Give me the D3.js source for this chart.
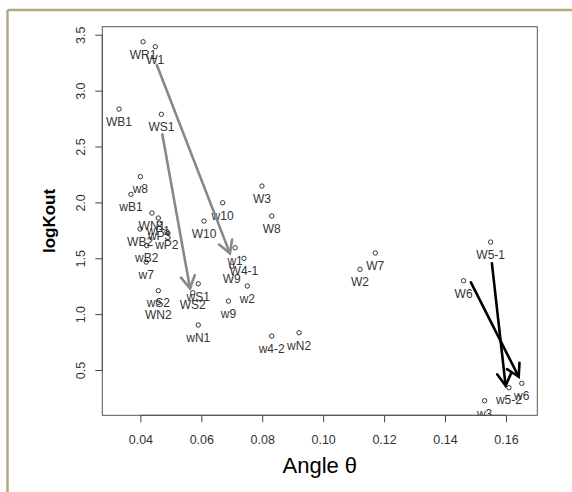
<!DOCTYPE html>
<html>
<head>
<meta charset="utf-8">
<script src="https://cdn.jsdelivr.net/npm/d3@7/dist/d3.min.js"></script>
<style>
  html, body { margin: 0; padding: 0; background: #fff; }
  svg { display: block; }
  text { font-family: "Liberation Sans", Arial, sans-serif; }
</style>
</head>
<body>
<svg id="chart" width="572" height="492"></svg>
<script>
// ---- data ----
const labels = ["WR1","W1","WB1","WS1","w8","wB1","WN1","wP1","wP3","WB2","wP2","wB2","w7",
  "wS2","WN2","wS1","WS2","wN1","W10","w10","W3","W8","w1","W4-1","W9","w2","w9",
  "w4-2","wN2","W2","W7","W5-1","W6","w5-2","w6","w3"];
const angle = [0.0409,0.0449,0.0330,0.0469,0.0400,0.0369,0.0438,0.0459,0.0463,0.0399,0.0487,0.0421,0.0419,
  0.0459,0.0459,0.0590,0.0572,0.0590,0.0609,0.0670,0.0799,0.0831,0.0711,0.0740,0.0700,0.0751,0.0689,
  0.0831,0.0921,0.1121,0.1171,0.1550,0.1461,0.1610,0.1652,0.1530];
const logKout = [3.437,3.393,2.835,2.788,2.230,2.072,1.905,1.860,1.813,1.762,1.737,1.614,1.466,
  1.210,1.104,1.272,1.192,0.903,1.833,1.997,2.146,1.878,1.594,1.499,1.428,1.252,1.117,
  0.804,0.834,1.401,1.547,1.645,1.299,0.342,0.381,0.225];

// arrows: [x0, y0, x1, y1]
const arrowX0 = [0.0454, 0.0472, 0.1554, 0.1485];
const arrowY0 = [3.229, 2.609, 1.455, 1.285];
const arrowX1 = [0.0694, 0.0563, 0.1599, 0.1642];
const arrowY1 = [1.544, 1.231, 0.360, 0.440];
const arrowColor = ["#888888", "#888888", "#000000", "#000000"];

const xTicks = [0.04, 0.06, 0.08, 0.10, 0.12, 0.14, 0.16];
const xTickLabels = ["0.04","0.06","0.08","0.10","0.12","0.14","0.16"];
const yTicks = [0.5, 1.0, 1.5, 2.0, 2.5, 3.0, 3.5];
const yTickLabels = ["0.5","1.0","1.5","2.0","2.5","3.0","3.5"];
const xDomain = [0.0275, 0.1703];
const yDomain = [0.095, 3.572];

// ---- layout ----
const L = 102.3, R = 537.3, T = 26.7, B = 415.3;
const svg = d3.select("#chart");

// outer olive frame
svg.append("line").attr("x1", 7.5).attr("y1", 10).attr("x2", 572).attr("y2", 10)
  .attr("stroke", "#b3a87f").attr("stroke-width", 2.5);
svg.append("line").attr("x1", 7.5).attr("y1", 10).attr("x2", 7.5).attr("y2", 492)
  .attr("stroke", "#b3a87f").attr("stroke-width", 2.5);

const x = d3.scaleLinear().domain(xDomain).range([L, R]);
const y = d3.scaleLinear().domain(yDomain).range([B, T]);

svg.append("defs").append("clipPath").attr("id", "plotclip")
  .append("rect").attr("x", L).attr("y", T).attr("width", R - L).attr("height", B - T);

// axes
const xAxis = d3.axisBottom(x).tickValues(xTicks).tickFormat((d, i) => xTickLabels[i])
  .tickSize(7).tickSizeOuter(0).tickPadding(13);
const gx = svg.append("g").attr("transform", `translate(0,${B})`).call(xAxis);
gx.select(".domain").attr("d", `M${x(xTicks[0])},0H${x(xTicks[xTicks.length-1])}`).attr("stroke", "#444");
gx.selectAll(".tick line").attr("stroke", "#444");
gx.selectAll(".tick text").attr("font-size", "12.5px").attr("fill", "#333")
  .attr("font-family", "Liberation Sans, Arial, sans-serif");

const yAxis = d3.axisLeft(y).tickValues(yTicks).tickFormat((d, i) => yTickLabels[i])
  .tickSize(7).tickSizeOuter(0);
const gy = svg.append("g").attr("transform", `translate(${L},0)`).call(yAxis);
gy.select(".domain").attr("d", `M0,${y(yTicks[0])}V${y(yTicks[yTicks.length-1])}`).attr("stroke", "#444");
gy.selectAll(".tick line").attr("stroke", "#444");
gy.selectAll(".tick text")
  .attr("x", null).attr("dy", null)
  .attr("text-anchor", "middle")
  .attr("transform", "translate(-17.5,0) rotate(-90)")
  .attr("y", 0)
  .attr("font-size", "12.5px").attr("fill", "#333")
  .attr("font-family", "Liberation Sans, Arial, sans-serif");

// box
svg.append("rect").attr("x", L).attr("y", T).attr("width", R - L).attr("height", B - T)
  .attr("fill", "none").attr("stroke", "#555").attr("stroke-width", 1);

const plot = svg.append("g").attr("clip-path", "url(#plotclip)");

// points
plot.selectAll("circle.pt").data(labels).enter().append("circle")
  .attr("class", "pt")
  .attr("cx", (d, i) => x(angle[i]))
  .attr("cy", (d, i) => y(logKout[i]))
  .attr("r", 2.2)
  .attr("fill", "none").attr("stroke", "#222").attr("stroke-width", 0.9);

// labels (below points)
plot.selectAll("text.lab").data(labels).enter().append("text")
  .attr("class", "lab")
  .attr("x", (d, i) => x(angle[i]))
  .attr("y", (d, i) => y(logKout[i]) + 16.8)
  .attr("text-anchor", "middle")
  .attr("font-size", "12px").attr("fill", "#333")
  .text(d => d);

// arrows
const headLen = 14, headAng = Math.PI / 6;
arrowX0.forEach((_, i) => {
  const x0 = x(arrowX0[i]), y0 = y(arrowY0[i]), x1 = x(arrowX1[i]), y1 = y(arrowY1[i]);
  const a = Math.atan2(y1 - y0, x1 - x0);
  const g = plot.append("g").attr("stroke", arrowColor[i]).attr("stroke-width", 2.6)
    .attr("fill", "none").attr("stroke-linecap", "round");
  g.append("line").attr("x1", x0).attr("y1", y0).attr("x2", x1).attr("y2", y1);
  const p = [
    [x1 - headLen * Math.cos(a - headAng), y1 - headLen * Math.sin(a - headAng)],
    [x1, y1],
    [x1 - headLen * Math.cos(a + headAng), y1 - headLen * Math.sin(a + headAng)]
  ];
  g.append("path").attr("d", d3.line()(p));
});

// axis titles
svg.append("text").attr("x", (L + R) / 2).attr("y", 472.7)
  .attr("text-anchor", "middle").attr("font-size", "22px").attr("fill", "#000")
  .text("Angle θ");
svg.append("text")
  .attr("transform", `translate(55,${(T + B) / 2}) rotate(-90)`)
  .attr("text-anchor", "middle").attr("font-size", "17px").attr("font-weight", "bold").attr("fill", "#000")
  .text("logKout");
</script>
</body>
</html>
